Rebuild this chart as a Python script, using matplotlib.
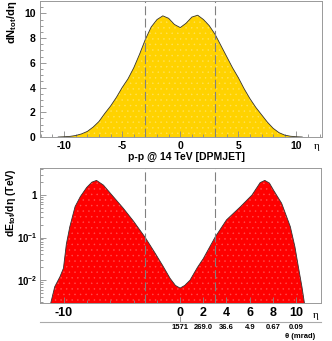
import matplotlib
matplotlib.use("Agg")
import matplotlib.pyplot as plt
from matplotlib.ticker import FixedLocator, MultipleLocator, LogLocator, NullFormatter

plt.rcParams['font.family'] = ['Liberation Sans', 'DejaVu Sans']
plt.rcParams['font.weight'] = 'bold'
plt.rcParams['mathtext.default'] = 'regular'
plt.rcParams['axes.unicode_minus'] = False
plt.rcParams['hatch.linewidth'] = 0.3

# ---- data: charged multiplicity dN/deta (top) ----
eta_n = [-10.5, -10, -9.5, -9, -8.5, -8, -7.5, -7, -6.5, -6, -5.5, -5, -4.5, -4,
         -3.5, -3, -2.5, -2, -1.5, -1, -0.5, 0, 0.5, 1, 1.5, 2, 2.5, 3, 3.5, 4,
         4.5, 5, 5.5, 6, 6.5, 7, 7.5, 8, 8.5, 9, 9.5, 10, 10.5]
dn = [0.0, 0.02, 0.05, 0.12, 0.25, 0.45, 0.8, 1.25, 1.9, 2.5, 3.2, 4.0, 4.7, 5.6,
      6.7, 7.9, 8.9, 9.5, 9.8, 9.6, 9.1, 8.85, 9.2, 9.7, 9.85, 9.5, 9.0, 8.3, 7.4, 6.5,
      5.6, 4.8, 3.9, 3.1, 2.4, 1.8, 1.2, 0.7, 0.35, 0.15, 0.06, 0.02, 0.0]

# ---- data: energy flow dE/deta (bottom, TeV) ----
eta_e = [-11.2, -10.8, -10.35, -10.05, -9.8, -9.5, -9.05, -8.6, -8.05, -7.6, -7.2,
         -6.6, -5.75, -4.9, -4.0, -3.0, -2.15, -1.5, -0.86, -0.4, 0, 0.4, 0.86, 1.5,
         2.0, 3.0, 4.0, 5.2, 6.2, 6.9, 7.3, 7.7, 8.05, 8.75, 9.5, 9.9, 10.2, 10.5, 10.75]
de = [0.0025, 0.007, 0.012, 0.019, 0.07, 0.18, 0.53, 0.91, 1.5, 2.0, 2.2,
      1.7, 0.91, 0.49, 0.24, 0.10, 0.043, 0.022, 0.011, 0.0075, 0.0065, 0.0075, 0.010, 0.02,
      0.032, 0.10, 0.26, 0.53, 1.0, 1.95, 2.2, 1.9, 1.3, 0.64, 0.18, 0.06, 0.02, 0.007, 0.0025]

theta_eta = [0, 2, 4, 6, 8, 10]
theta_labels = ['1571', '269.0', '36.6', '4.9', '0.67', '0.09']
eta_cuts = [-3, 3]

W, H = 332, 341
fig = plt.figure(figsize=(W / 100, H / 100), dpi=100)

frame_col = '#999999'
tick_col = '#888888'

# ---------------- top panel ----------------
ax1 = fig.add_axes([40 / W, 1 - 137 / H, 282 / W, 136 / H])
ax1.fill_between(eta_n, dn, 0, facecolor='#FFD200', edgecolor='#FFE25A', hatch='...', lw=0)
ax1.plot(eta_n, dn, color='#333333', lw=0.6)
for c in eta_cuts:
    ax1.axvline(c, color='#808080', lw=0.8, ls=(0, (8, 3)))
ax1.set_xlim(-12.07, 12.2)
ax1.set_ylim(0, 11)
ax1.xaxis.set_major_locator(FixedLocator([-10, -5, 0, 5, 10]))
ax1.xaxis.set_minor_locator(MultipleLocator(1))
ax1.yaxis.set_major_locator(MultipleLocator(2))
ax1.yaxis.set_minor_locator(MultipleLocator(0.5))
ax1.tick_params(which='both', direction='in', colors=tick_col, labelcolor='black',
                labelsize=7.5, width=0.6)
ax1.tick_params(which='major', length=4, pad=3)
ax1.tick_params(which='minor', length=2)
for sp in ax1.spines.values():
    sp.set_color(frame_col)
    sp.set_linewidth(0.7)
ax1.set_ylabel('dN$_{tot}$/dη', fontsize=8, fontweight='bold', loc='top')
ax1.yaxis.label.set_va('center')
ax1.yaxis.set_label_coords(-(40 - 12) / 282, 1.0)
fig.text(186 / W, 1 - 157 / H, 'p-p @ 14 TeV [DPMJET]', ha='center', va='center',
         fontsize=7.5, fontweight='bold')
fig.text(317 / W, 1 - 146 / H, 'η', ha='center', va='center', fontsize=8,
         family=['Liberation Serif', 'DejaVu Serif'], fontweight='normal')

# ---------------- bottom panel ----------------
ax2 = fig.add_axes([40 / W, 1 - 303 / H, 280.5 / W, 135 / H])
ax2.set_yscale('log')
ax2.fill_between(eta_e, de, 1e-5, facecolor='#FF0000', edgecolor='#FF5050', hatch='...', lw=0)
ax2.plot(eta_e, de, color='#333333', lw=0.6)
for c in eta_cuts:
    ax2.axvline(c, color='#808080', lw=0.8, ls=(0, (8, 3)))
ax2.set_xlim(-12.07, 12.1)
ax2.set_ylim(0.0029, 4.3)
ax2.xaxis.set_major_locator(FixedLocator([-10, 0, 2, 4, 6, 8, 10]))
ax2.xaxis.set_minor_locator(FixedLocator([-8, -6, -4, -2]))
ax2.yaxis.set_major_locator(FixedLocator([0.01, 0.1, 1]))
ax2.yaxis.set_minor_locator(LogLocator(base=10, subs=range(2, 10)))
ax2.yaxis.set_minor_formatter(NullFormatter())
ax2.set_yticklabels(['10$^{-2}$', '10$^{-1}$', '1'])
ax2.tick_params(which='both', direction='in', colors=tick_col, labelcolor='black', width=0.6)
ax2.tick_params(axis='x', which='major', length=4, pad=3, labelsize=9)
ax2.tick_params(axis='y', which='major', length=4, pad=2, labelsize=7)
ax2.tick_params(which='minor', length=2)
for sp in ax2.spines.values():
    sp.set_color(frame_col)
    sp.set_linewidth(0.7)
ax2.set_ylabel('dE$_{tot}$/dη (TeV)', fontsize=7.5, fontweight='bold', loc='top')
ax2.yaxis.label.set_va('center')
ax2.yaxis.set_label_coords(-(40 - 11) / 280.5, 1.0)
fig.text(316 / W, 1 - 316 / H, 'η', ha='center', va='center', fontsize=8,
         family=['Liberation Serif', 'DejaVu Serif'], fontweight='normal')

# secondary theta axis
sec = ax2.secondary_xaxis(-(321.7 - 303) / 135)
sec.set_xticks(theta_eta)
sec.set_xticklabels(theta_labels)
sec.tick_params(axis='x', direction='in', length=4, width=0.6, colors=tick_col,
                labelcolor='black', labelsize=5.5, pad=2)
for sp in sec.spines.values():
    sp.set_color('#aaaaaa')
    sp.set_linewidth(0.8)
for i, t in enumerate(sec.xaxis.get_major_ticks()):
    if i > 0:
        t.tick1line.set_visible(False)
fig.text(300 / W, 1 - 336 / H, 'θ (mrad)', ha='center', va='center', fontsize=5.5,
         fontweight='bold')

fig.savefig('out.png', dpi=100)
